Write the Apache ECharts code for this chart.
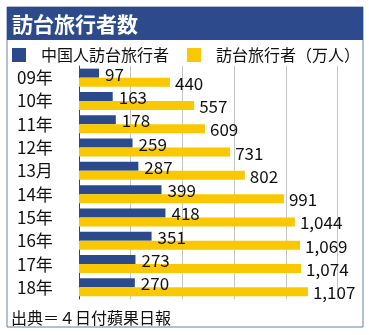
<!DOCTYPE html>
<html><head><meta charset="utf-8">
<script src="https://cdn.jsdelivr.net/npm/echarts@6/dist/echarts.min.js"></script>
<style>html,body{margin:0;padding:0;background:#fff}#c{width:369px;height:335px}</style>
</head><body><div id="c"></div>
<script>
const categories = ['09年','10年','11年','12年','13月','14年','15年','16年','17年','18年'];
const chinaVisitors = [97,163,178,259,287,399,418,351,273,270];
const totalVisitors = [440,557,609,731,802,991,1044,1069,1074,1107];
const seriesNames = ['中国人訪台旅行者','訪台旅行者（万人）'];
const FONT = '"Noto Sans CJK JP", "Noto Sans", sans-serif';
const chart = echarts.init(document.getElementById('c'));
const fmt = p => p.value.toLocaleString('en-US');
chart.setOption({
  animation: false,
  textStyle: {fontFamily: FONT},
  graphic: [
    {type:'rect', shape:{x:7,y:7,width:356,height:320}, style:{fill:'none', stroke:'#6a7ea6', lineWidth:1}, z:0},
    {type:'rect', shape:{x:7,y:7,width:356,height:33}, style:{fill:'#2d4a8c'}, z:1}
  ],
  title: [
    {text:'訪台旅行者数', left:12, top:9, padding:0, textStyle:{color:'#fff', fontSize:21, fontWeight:'bold', fontFamily:FONT, lineHeight:30}},
    {text:'出典＝４日付蘋果日報', left:11, top:308, padding:0, textStyle:{color:'#111', fontSize:16, fontWeight:'normal', fontFamily:FONT, lineHeight:20}}
  ],
  legend: {
    left: 12, top: 47, padding: 0, itemWidth: 14, itemHeight: 14, itemGap: 18, icon: 'rect',
    textStyle: {fontSize: 16, color: '#111', fontFamily: FONT, padding: [0,0,0,10]},
    data: seriesNames
  },
  grid: {left: 79, right: 31.5, top: 66, height: 233},
  xAxis: {
    type:'value', min:0, max:1250, interval:250,
    axisLabel:{show:false}, axisLine:{show:false}, axisTick:{show:false},
    splitLine:{lineStyle:{color:'#c4c4c4', width:1}}
  },
  yAxis: {
    type:'category', data: categories, inverse:true,
    axisTick:{show:false},
    axisLine:{lineStyle:{color:'#444', width:1}},
    axisLabel:{color:'#111', fontSize:17, fontFamily:FONT, align:'left', margin:62}
  },
  series: [
    {name: seriesNames[0], type:'bar', data: chinaVisitors, barWidth:9, barGap:'0%',
     itemStyle:{color:'#2b4a8c'},
     label:{show:true, position:'right', distance:6, color:'#111', fontSize:17, fontFamily:FONT, formatter: fmt, offset:[0,1]}},
    {name: seriesNames[1], type:'bar', data: totalVisitors, barWidth:9, barGap:'0%',
     itemStyle:{color:'#f9c800'},
     label:{show:true, position:'right', distance:5, color:'#111', fontSize:17, fontFamily:FONT, formatter: fmt, offset:[0,1]}}
  ]
});
</script></body></html>
